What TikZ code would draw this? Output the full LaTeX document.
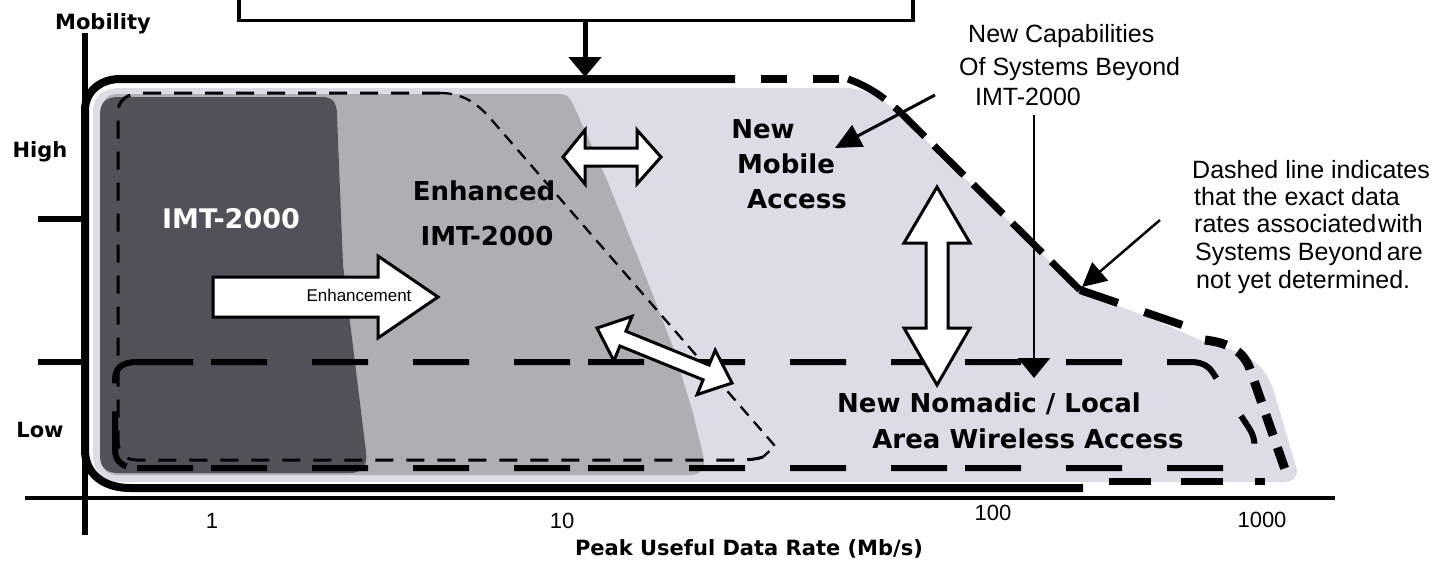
\documentclass[tikz,border=0pt]{standalone}
\usepackage{fontspec}
\setmainfont{Liberation Sans}
\newfontfamily\labfont{DejaVu Sans}
\usetikzlibrary{arrows.meta}
\definecolor{lav}{HTML}{DDDBE6}
\definecolor{midg}{HTML}{AFAEB3}
\definecolor{darkg}{HTML}{52515A}
\begin{document}
\begin{tikzpicture}[x=1pt,y=-1pt,
  bl/.style={font=\labfont\bfseries\fontsize{26}{28}\selectfont, inner sep=0pt, anchor=base},
  axl/.style={font=\labfont\bfseries\fontsize{21}{24}\selectfont, inner sep=0pt, anchor=base},
  note/.style={font=\fontsize{25}{27}\selectfont, inner sep=0pt, anchor=base west},
  num/.style={font=\fontsize{22}{24}\selectfont, inner sep=0pt, anchor=base},
  blockarrow/.style={draw=black, fill=white, line width=3pt, line join=miter},
  thickdash/.style={line width=6pt, dash pattern=on 56pt off 18pt on 56pt off 45pt on 56pt off 45pt on 56pt off 45pt},
  thindash/.style={line width=3pt, dash pattern=on 18pt off 13pt},
  border/.style={line width=8pt},
]
\useasboundingbox (0,0) rectangle (1444,560);
\clip (0,0) rectangle (1444,560);
\fill[white] (0,0) rectangle (1444,560);

% ---------- filled regions ----------
\fill[lav] (93,112) .. controls (93,97) and (103,88) .. (120,88) -- (845,88)
  .. controls (865,88) and (885,100) .. (900,115) -- (1080,291) -- (1150,318) -- (1205,342)
  .. controls (1245,352) and (1265,360) .. (1275,395) -- (1297,470)
  .. controls (1297,478) and (1292,482) .. (1285,482) -- (120,482)
  .. controls (103,482) and (93,472) .. (93,455) -- cycle;
\fill[midg] (100,115) .. controls (100,103) and (106,94) .. (118,94) -- (560,94)
  .. controls (567,94) and (570,98) .. (573,104) -- (607,180) -- (647,280) -- (673,347)
  -- (693,413) -- (703,455) .. controls (706,468) and (702,475) .. (690,475)
  -- (118,475) .. controls (106,475) and (100,467) .. (100,455) -- cycle;
\fill[darkg] (100,115) .. controls (100,103) and (106,97) .. (118,97) -- (322,97)
  .. controls (333,97) and (337,103) .. (337,115) -- (343,265) -- (366,452)
  .. controls (368,466) and (362,473) .. (350,473) -- (118,473)
  .. controls (106,473) and (100,467) .. (100,455) -- cycle;

% ---------- thin dashed outline (Enhanced IMT-2000) ----------
\draw[thindash] (440,93) -- (142,93) .. controls (128,93) and (118,100) .. (118,112)
  -- (118,440) .. controls (118,452) and (124,460) .. (137,460) -- (735,460)
  .. controls (750,460) and (757,459) .. (763,457);
\draw[line width=2.3pt, dash pattern=on 12pt off 8pt] (440,93) .. controls (462,93) and (477,103) .. (490,118)
  -- (775,446) -- (763,457);

% ---------- thick dashed (nomadic / local area) ----------
\draw[thickdash] (137,362) -- (1190,362) .. controls (1203,362) and (1209,366) .. (1215,376) -- (1249,428);
\draw[thickdash] (137,468) -- (1228,468) .. controls (1250,467) and (1262,448) .. (1249,428);
\draw[line width=6pt, dash pattern=on 36pt off 28pt on 60pt] (137,362) .. controls (122,362) and (115,368) .. (115,380)
  -- (115,450) .. controls (115,462) and (124,468) .. (137,468);

% ---------- outer border ----------
\draw[border] (735,79) -- (120,79) .. controls (100,79) and (85,92) .. (85,110) -- (85,450)
  .. controls (85,475) and (105,488) .. (130,488) -- (1083,488);
\draw[border, dash pattern=on 26pt off 26pt, dash phase=26pt] (735,79) -- (845,79);
\draw[line width=7pt, dash pattern=on 42pt off 13pt] (848,79) .. controls (870,87) and (885,98) .. (900,112) -- (1080,290);
\draw[line width=8pt, dash pattern=on 40pt off 28pt] (1080,290) -- (1188,327);
\draw[line width=9pt, dash pattern=on 22pt off 13pt] (1205,340) .. controls (1230,343) and (1245,352) .. (1251,372) -- (1288,478);
\draw[line width=7pt, dash pattern=on 42pt off 30pt on 42pt off 32pt on 10pt off 40pt] (1109,481) -- (1265,481);

% ---------- axes ----------
\draw[line width=6pt] (85,33) -- (85,535);
\draw[line width=6pt] (38,219) -- (85,219);
\draw[line width=6pt] (38,362) -- (85,362);
\draw[line width=4pt] (25,498) -- (1335,498);

% ---------- top box ----------
\node[draw=black, line width=3.5pt, fill=white, minimum width=674pt, minimum height=60pt,
      inner sep=0pt, anchor=south west] (topbox) at (237,22) {};
\coordinate (boxtip) at (585,77);
\draw[line width=5pt, -{Triangle[length=20pt,width=32pt]}] (topbox.south -| boxtip) -- (boxtip);

% ---------- white block arrows ----------
\draw[blockarrow] (213,277) -- (378,277) -- (378,256) -- (438,297) -- (378,338) -- (378,317) -- (213,317) -- cycle;
\draw[blockarrow] (563,157) -- (585,130) -- (585,148) -- (637,148) -- (637,130) -- (661,157)
  -- (637,184) -- (637,166) -- (585,166) -- (585,184) -- cycle;
\draw[blockarrow] (937,187) -- (970,243) -- (948,243) -- (948,328) -- (970,328) -- (937,385)
  -- (904,328) -- (926,328) -- (926,243) -- (904,243) -- cycle;
\draw[blockarrow] (597,328) -- (613.9,360.8) -- (619.9,346.0) -- (703.1,379.8) -- (697.1,394.6)
  -- (732,383) -- (715.2,350.2) -- (709.1,365.0) -- (625.9,331.2) -- (632.0,316.4) -- cycle;

% ---------- thin arrows ----------
\coordinate (capS) at (935,95);
\coordinate (capT) at (835,148);
\draw[line width=3pt, -{Triangle[length=26pt,width=24pt]}] (capS) -- (capT);
\coordinate (vS) at (1034,115);
\coordinate (vT) at (1034,378);
\draw[line width=2.5pt, -{Triangle[length=20pt,width=32pt]}] (vS) -- (vT);
\coordinate (dS) at (1160,220);
\coordinate (dT) at (1082,287);
\draw[line width=2.5pt, -{Triangle[length=24pt,width=24pt]}] (dS) -- (dT);

% ---------- labels ----------
\node[axl] (mob) at (103,29) {Mobility};
\node[axl] (high) at (40,157) {High};
\node[axl] (low) at (40,437) {Low};
\node[axl] (xlab) at (749,555) {Peak Useful Data Rate (Mb/s)};
\node[num] (n1) at (212,528) {1};
\node[num] (n10) at (562,528) {10};
\node[num] (n100) at (993,520) {100};
\node[num] (n1000) at (1262,527) {1000};

\node[bl, font=\labfont\bfseries\fontsize{27}{29}\selectfont, text=white] (imt) at (231,228) {IMT-2000};
\node[bl] (enh1) at (484,200) {Enhanced};
\node[bl] (enh2) at (487,245) {IMT-2000};
\node[font=\fontsize{17}{19}\selectfont, inner sep=0pt, anchor=base] (enhlab) at (359,301) {Enhancement};

\node[bl] (nm1) at (763,138) {New};
\node[bl] (nm2) at (786,173) {Mobile};
\node[bl] (nm3) at (797,208) {Access};
\node[bl] (nn1) at (989,412) {New Nomadic / Local};
\node[bl] (nn2) at (1028,448) {Area Wireless Access};

\node[note] (c1) at (968,42) {New Capabilities};
\node[note] (c2) at (959,75) {Of Systems Beyond};
\node[note] (c3) at (975,105) {IMT-2000};

\node[note] (d1) at (1192,178) {Dashed line indicates};
\node[note] (d2) at (1194,205) {that the exact data};
\node[note] (d3) at (1194,232) {rates associated\hspace{2pt}with};
\node[note] (d4) at (1195,260) {Systems Beyond\hspace{4pt}are};
\node[note] (d5) at (1196,288) {not yet determined.};
\end{tikzpicture}
\end{document}
